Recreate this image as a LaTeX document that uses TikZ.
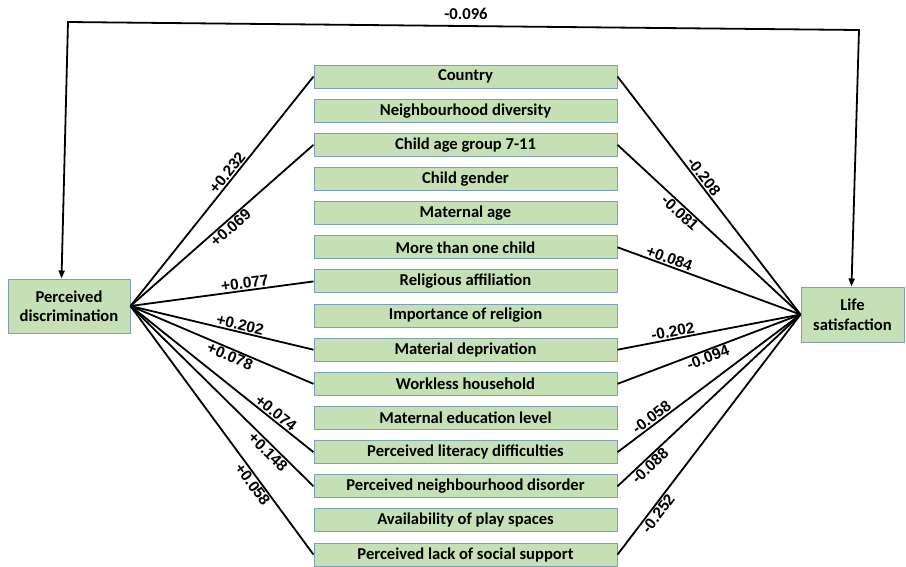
\documentclass[tikz,border=0pt]{standalone}
\usepackage{fontspec}
\setmainfont{Carlito}
\newfontfamily\numf{Liberation Sans}
\usetikzlibrary{arrows.meta,calc}
\definecolor{boxfill}{RGB}{197,224,180}
\definecolor{boxline}{RGB}{125,160,180}
\begin{document}
\begin{tikzpicture}[x=1pt,y=-1pt,
  var/.style={draw=boxline,line width=1pt,fill=boxfill,minimum width=303pt,minimum height=23pt,inner sep=0pt,
    font=\fontsize{16.6}{18}\selectfont\bfseries},
  mainbox/.style={draw=boxline,line width=1pt,fill=boxfill,inner sep=0pt,align=center,
    font=\fontsize{16.6}{19.5}\selectfont\bfseries},
  edge/.style={line width=1.8pt,black},
  lab/.style={font=\numf\fontsize{15.5}{17}\selectfont\bfseries,sloped,inner sep=1pt},
  arr/.style={line width=1.8pt,{Triangle[width=6pt,length=8pt]}-{Triangle[width=6pt,length=8pt]}}
]
\useasboundingbox (0,0) rectangle (906,566);
\node[mainbox,minimum width=122pt,minimum height=54pt] (pd) at (69,306) {Perceived\\discrimination};
\node[mainbox,minimum width=103pt,minimum height=55pt] (ls) at (852.5,314.5) {Life\\satisfaction};
\foreach \n/\t [count=\i from 0] in {
  v0/Country,
  v1/Neighbourhood diversity,
  v2/Child age group 7-11,
  v3/Child gender,
  v4/Maternal age,
  v5/More than one child,
  v6/Religious affiliation,
  v7/Importance of religion,
  v8/Material deprivation,
  v9/Workless household,
  v10/Maternal education level,
  v11/Perceived literacy difficulties,
  v12/Perceived neighbourhood disorder,
  v13/Availability of play spaces,
  v14/Perceived lack of social support}
  \node[var] (\n) at (465.5,{76.5+34.15*\i}) {\t};
% top path
\coordinate (tl) at (68,22);
\coordinate (tr) at (859,30);
\draw[arr] ($(pd.north west)+(54,0)$) -- (tl) -- (tr) -- ($(ls.north west)+(51,0)$);
\node[font=\fontsize{16.6}{18}\selectfont\bfseries] (top) at (466,14) {-0.096};
% left edges
\draw[edge] (pd.east) -- node[lab,pos=0.56,above] {+0.232} (v0.west);
\draw[edge] (pd.east) -- node[lab,pos=0.52,below] {+0.069} (v2.west);
\draw[edge] (pd.east) -- node[lab,pos=0.63,above] {+0.077} (v6.west);
\draw[edge] (pd.east) -- node[lab,pos=0.59,above] {+0.202} (v8.west);
\draw[edge] (pd.east) -- node[lab,pos=0.56,below] {+0.078} (v9.west);
\draw[edge] (pd.east) -- node[lab,pos=0.77,above] {+0.074} (v11.west);
\draw[edge] (pd.east) -- node[lab,pos=0.78,below] {+0.148} (v12.west);
\draw[edge] (pd.east) -- node[lab,pos=0.70,below] {+0.058} (v14.west);
% right edges
\draw[edge] (v0.east) -- node[lab,pos=0.44,above] {-0.208} (ls.west);
\draw[edge] (v2.east) -- node[lab,pos=0.37,below] {-0.081} (ls.west);
\draw[edge] (v5.east) -- node[lab,pos=0.27,above] {+0.084} (ls.west);
\draw[edge] (v8.east) -- node[lab,pos=0.31,above] {-0.202} (ls.west);
\draw[edge] (v9.east) -- node[lab,pos=0.48,below] {-0.094} (ls.west);
\draw[edge] (v11.east) -- node[lab,pos=0.21,above] {-0.058} (ls.west);
\draw[edge] (v12.east) -- node[lab,pos=0.15,below] {-0.088} (ls.west);
\draw[edge] (v14.east) -- node[lab,pos=0.19,below] {-0.252} (ls.west);
\end{tikzpicture}
\end{document}
